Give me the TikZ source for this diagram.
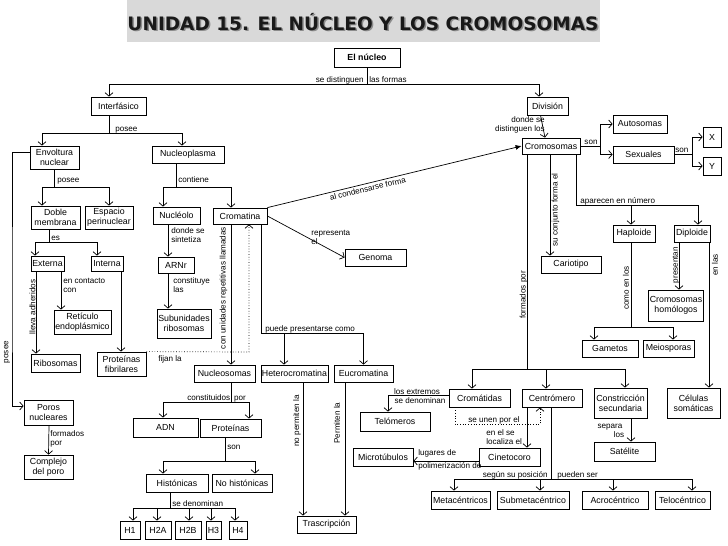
\documentclass[tikz,border=0pt]{standalone}
\usepackage{fontspec}
\setmainfont{Liberation Sans}
\newfontfamily\titlefont{DejaVu Sans}
\usetikzlibrary{arrows.meta}
\definecolor{titlegray}{RGB}{217,217,217}
\begin{document}
\begin{tikzpicture}[x=1pt,y=-1pt,line width=0.7pt,
  box/.style={draw,line width=0.8pt,fill=white,inner sep=1pt,align=center,font=\fontsize{8.8}{9.8}\selectfont},
  wh/.style 2 args={minimum width=#1pt,minimum height=#2pt},
  lbl/.style={inner sep=0pt,align=left,font=\fontsize{8.1}{9.2}\selectfont},
  arr/.style={-{Straight Barb[length=3.5pt,width=8pt]}},
  titletxt/.style={inner sep=0pt,font=\titlefont\bfseries\fontsize{18.5}{20}\selectfont}]
\useasboundingbox (0,0) rectangle (728,546);
% title
\fill[titlegray] (127,0) rectangle (600,42);
\node[titletxt,text=black!45,anchor=base] (titleS) at (364.5,31.5) {UNIDAD 15. EL NÚCLEO Y LOS CROMOSOMAS};
\node[titletxt,text=black!90,anchor=base] (title) at (363,30) {UNIDAD 15. EL NÚCLEO Y LOS CROMOSOMAS};
% nodes
\node[box,wh={66}{19}] (ElNucleo) at (367,57.5) {\bfseries El núcleo};
\node[box,wh={55}{18}] (Interfasico) at (118.5,106) {Interfásico};
\node[box,wh={41}{18}] (Division) at (547.5,106) {División};
\node[box,wh={49}{23}] (Envoltura) at (54.5,157.5) {Envoltura\\nuclear};
\node[box,wh={72}{17}] (Nucleoplasma) at (188,154.5) {Nucleoplasma};
\node[box,wh={58}{16}] (Cromosomas) at (551,146) {Cromosomas};
\node[box,wh={54}{18}] (Autosomas) at (640,124) {Autosomas};
\node[box,wh={61}{17}] (Sexuales) at (643.5,154.5) {Sexuales};
\node[box,wh={18}{20}] (X) at (712,137) {X};
\node[box,wh={18}{18}] (Y) at (712,166) {Y};
\node[box,wh={49}{23}] (Doble) at (55.5,217.5) {Doble\\membrana};
\node[box,wh={48}{23}] (Espacio) at (109,217.5) {Espacio\\perinuclear};
\node[box,wh={47}{17}] (Nucleolo) at (176.5,215.5) {Nucléolo};
\node[box,wh={54}{16}] (Cromatina) at (240,216) {Cromatina};
\node[box,wh={33}{15}] (Externa) at (47.5,263.5) {Externa};
\node[box,wh={32}{15}] (Interna) at (107,263.5) {Interna};
\node[box,wh={36}{16}] (ARNr) at (176,265) {ARNr};
\node[box,wh={61}{17}] (Genoma) at (375.5,257.5) {Genoma};
\node[box,wh={60}{17}] (Cariotipo) at (571,264.5) {Cariotipo};
\node[box,wh={42}{17}] (Haploide) at (634,233.5) {Haploide};
\node[box,wh={36}{17}] (Diploide) at (692,233.5) {Diploide};
\node[box,wh={57}{24}] (Reticulo) at (82.5,322) {Retículo\\endoplásmico};
\node[box,wh={54}{29}] (Subunidades) at (184,323.5) {Subunidades\\ribosomas};
\node[box,wh={54}{31}] (CromHom) at (676,305.5) {Cromosomas\\homólogos};
\node[box,wh={56}{17}] (Gametos) at (610,348.5) {Gametos};
\node[box,wh={51}{17}] (Meiosporas) at (668.5,348.5) {Meiosporas};
\node[box,wh={49}{18}] (Ribosomas) at (55.5,363) {Ribosomas};
\node[box,wh={49}{24}] (ProtFib) at (121.5,364) {Proteínas\\fibrilares};
\node[box,wh={61}{17}] (Nucleosomas) at (224.5,373.5) {Nucleosomas};
\node[box,wh={67}{17}] (Hetero) at (294.5,373.5) {Heterocromatina};
\node[box,wh={59}{17}] (Eucro) at (363.5,373.5) {Eucromatina};
\node[box,wh={61}{18}] (Cromatidas) at (479.5,398) {Cromátidas};
\node[box,wh={60}{18}] (Centromero) at (552,398) {Centrómero};
\node[box,wh={53}{30}] (Constriccion) at (620.5,403) {Constricción\\secundaria};
\node[box,wh={53}{30}] (Celulas) at (693.5,403) {Células\\somáticas};
\node[box,wh={49}{25}] (Poros) at (48.5,412.5) {Poros\\nucleares};
\node[box,wh={70}{19}] (Telomeros) at (395,421.5) {Telómeros};
\node[box,wh={65}{19}] (ADN) at (165.5,427.5) {ADN};
\node[box,wh={61}{18}] (Proteinas) at (230.5,428) {Proteínas};
\node[box,wh={60}{18}] (Microtubulos) at (383,457) {Microtúbulos};
\node[box,wh={61}{18}] (Cinetocoro) at (509.5,457) {Cinetocoro};
\node[box,wh={61}{19}] (Satelite) at (624.5,451.5) {Satélite};
\node[box,wh={49}{24}] (Complejo) at (48.5,467) {Complejo\\del poro};
\node[box,wh={62}{18}] (Historicas) at (177,483) {Histónicas};
\node[box,wh={60}{18}] (NoHist) at (242,483) {No histónicas};
\node[box,wh={59}{18}] (Metac) at (460.5,500) {Metacéntricos};
\node[box,wh={72}{18}] (Submeta) at (533,500) {Submetacéntrico};
\node[box,wh={66}{18}] (Acro) at (615,500) {Acrocéntrico};
\node[box,wh={55}{18}] (Telo) at (682.5,500) {Telocéntrico};
\node[box,wh={20}{18}] (H1) at (130,530) {H1};
\node[box,wh={26}{18}] (H2A) at (158,530) {H2A};
\node[box,wh={26}{18}] (H2B) at (188,530) {H2B};
\node[box,wh={15}{18}] (H3) at (213.5,530) {H3};
\node[box,wh={18}{18}] (H4) at (238,530) {H4};
\node[box,wh={59}{17}] (Trasc) at (326.5,524.5) {Trascripción};
% El nucleo
\coordinate (jN) at (367,84);
\draw (ElNucleo.south) -- (jN);
\draw[arr] (jN) -| ([xshift=-9.5pt]Interfasico.north);
\draw[arr] (jN) -| ([xshift=-8.5pt]Division.north);
\node[lbl,anchor=base east] (l1) at (364,82) {se distinguen};
\node[lbl,anchor=base west] (l2) at (369,82) {las formas};
% Interfasico
\coordinate (jI) at (109,133);
\draw ([xshift=-9.5pt]Interfasico.south) -- (jI);
\draw[arr] (jI) -| ([xshift=-12.5pt]Envoltura.north);
\draw[arr] (jI) -| ([xshift=-6pt]Nucleoplasma.north);
\node[lbl,anchor=base west] (l3) at (115,131) {posee};
% Envoltura
\coordinate (cL) at (12,300);
\draw[arr] ([yshift=5.5pt]Envoltura.west) -| (cL) |- ([yshift=6.5pt]Poros.west);
\node[lbl,rotate=90] (l4) at (7,352) {posee};
\coordinate (jE) at (54.5,187);
\draw (Envoltura.south) -- (jE);
\draw[arr] (jE) -| ([xshift=-13.5pt]Doble.north);
\draw[arr] (jE) -| (Espacio.north);
\node[lbl,anchor=base west] (l5) at (57,182) {posee};
% Doble membrana
\coordinate (jD) at (49,242);
\draw ([xshift=-6.5pt]Doble.south) -- (jD);
\draw[arr] (jD) -| ([xshift=-12.5pt]Externa.north);
\draw[arr] (jD) -| ([xshift=-10pt]Interna.north);
\node[lbl,anchor=base west] (l6) at (51,240) {es};
% Externa / Interna
\draw[arr] ([xshift=-11.5pt]Externa.south) -- ([xshift=-19.5pt]Ribosomas.north);
\node[lbl,rotate=90] (l7) at (32.5,307) {lleva adheridos};
\draw[arr] ([xshift=13.5pt]Externa.south) -- ([xshift=-21.5pt]Reticulo.north);
\node[lbl,anchor=north west] (l8) at (63,278) {en contacto\\con};
\draw[arr] ([xshift=14pt]Interna.south) -- ([xshift=-0.5pt]ProtFib.north);
\coordinate (cF) at (249,352);
\draw[dotted,arr] (ProtFib.north east) -- (cF) -- ([xshift=9pt]Cromatina.south);
\node[lbl,anchor=north west] (l9) at (158,355) {fijan la};
% Nucleoplasma
\coordinate (jNP) at (176,187);
\draw ([xshift=-12pt]Nucleoplasma.south) -- (jNP);
\draw[arr] (jNP) -| ([xshift=-13.5pt]Nucleolo.north);
\draw[arr] (jNP) -| ([xshift=-9pt]Cromatina.north);
\node[lbl,anchor=base west] (l10) at (178,182) {contiene};
\draw[arr] ([xshift=-8.5pt]Nucleolo.south) -- ([xshift=-8pt]ARNr.north);
\node[lbl,anchor=north west] (l11) at (171,227) {donde se\\sintetiza};
\draw[arr] ([xshift=-8pt]ARNr.south) -- ([xshift=-16pt]Subunidades.north);
\node[lbl,anchor=north west] (l12) at (173,277) {constituye\\las};
% Cromatina
\draw[arr] ([xshift=-9pt]Cromatina.south) -- ([xshift=6.5pt]Nucleosomas.north);
\node[lbl,rotate=90] (l13) at (223.5,288) {con unidades repetitivas llamadas};
\coordinate (jC) at (261,333);
\draw ([xshift=21pt]Cromatina.south) -- (jC);
\draw[arr] (jC) -| ([xshift=-10.5pt]Hetero.north);
\draw[arr] (jC) -| (Eucro.north);
\node[lbl,anchor=base west] (l14) at (265,331) {puede presentarse como};
\draw[arr] (Cromatina.east) -- (Genoma.west);
\node[lbl,anchor=north west] (l15) at (311,230) {representa\\el};
\draw[-{Latex[length=6pt,width=5pt]}] (Cromatina.north east) -- node[lbl,sloped,below=2pt,pos=0.39] (l16) {al condensarse forma} (Cromosomas.west);
% Division
\draw[arr] ([xshift=-7pt]Division.south) -- ([xshift=-6pt]Cromosomas.north);
\node[lbl,anchor=north east,align=right] (l17) at (545,116) {donde se\\distinguen los};
% Cromosomas
\coordinate (jS) at (600,146);
\draw (Cromosomas.east) -- (jS);
\draw[arr] (jS) |- (Autosomas.west);
\draw[arr] (jS) |- (Sexuales.west);
\node[lbl,anchor=base] (l18) at (591,144) {son};
\coordinate (jS2) at (692,154.5);
\draw (Sexuales.east) -- (jS2);
\draw[arr] (jS2) |- (X.west);
\draw[arr] (jS2) |- (Y.west);
\node[lbl,anchor=base west] (l19) at (675,152.5) {son};
\coordinate (jF) at (527,369);
\draw ([xshift=-24pt]Cromosomas.south) -- (jF);
\draw[arr] (jF) -| ([xshift=-7.5pt]Cromatidas.north);
\draw[arr] (jF) -| ([xshift=-6pt]Centromero.north);
\draw[arr] (jF) -| ([xshift=4.5pt]Constriccion.north);
\node[lbl,rotate=90] (l20) at (523.5,295) {formados por};
\draw[arr] ([xshift=-1pt]Cromosomas.south) -- ([xshift=-21pt]Cariotipo.north);
\node[lbl,rotate=90] (l21) at (555.5,210) {su conjunto forma el};
\coordinate (jA) at (576,205);
\draw ([xshift=25pt]Cromosomas.south) -- (jA);
\draw[arr] (jA) -| ([xshift=-3pt]Haploide.north);
\draw[arr] (jA) -| ([xshift=6pt]Diploide.north);
\node[lbl,anchor=base west] (l22) at (580,203) {aparecen en número};
% Haploide / Diploide
\coordinate (jH) at (631,327);
\draw ([xshift=-3pt]Haploide.south) -- (jH);
\draw[arr] (jH) -| ([xshift=-16pt]Gametos.north);
\draw[arr] (jH) -| ([xshift=4.5pt]Meiosporas.north);
\node[lbl,rotate=90] (l23) at (626,288) {como en los};
\draw[arr] ([xshift=-13pt]Diploide.south) -- ([xshift=3pt]CromHom.north);
\node[lbl,rotate=90] (l24) at (676,265) {presentan};
\draw[arr] ([xshift=17pt]Diploide.south) -- ([xshift=15.5pt]Celulas.north);
\node[lbl,rotate=90] (l25) at (715,265) {en las};
% Cromatidas
\draw[arr] ([yshift=3pt]Cromatidas.west) -| ([xshift=-7pt]Telomeros.north);
\node[lbl,anchor=base] (l26) at (417,394) {los extremos};
\node[lbl,anchor=north] (l27) at (420,397.5) {se denominan};
\coordinate (cU) at (455,424);
\draw[dotted,arr] ([xshift=-24.5pt]Cromatidas.south) -- (cU) -| ([xshift=-12pt]Centromero.south);
\node[lbl,anchor=base] (l28) at (494,422) {se unen por el};
% Centromero
\draw[arr] ([xshift=-25pt]Centromero.south) -- ([xshift=17.5pt]Cinetocoro.north);
\node[lbl,anchor=north west] (l29) at (486,429) {en el se\\localiza el};
\coordinate (jT) at (551,479);
\draw ([xshift=-1pt]Centromero.south) -- (jT);
\draw[arr] (jT) -| ([xshift=-6.5pt]Metac.north);
\draw[arr] (jT) -| ([xshift=7pt]Submeta.north);
\draw[arr] (jT) -| ([xshift=-2pt]Acro.north);
\draw[arr] (jT) -| ([xshift=9.5pt]Telo.north);
\node[lbl,anchor=base east] (l30) at (548,477.5) {según su posición};
\node[lbl,anchor=base west] (l31) at (557,477.5) {pueden ser};
\draw[arr] ([yshift=-4pt]Cinetocoro.west) -- ([yshift=-4pt]Microtubulos.east);
\node[lbl,anchor=base west] (l32) at (418,455) {lugares de};
\node[lbl,anchor=north west] (l33) at (418,462.5) {polimerización de};
\draw[arr] ([xshift=10.5pt]Constriccion.south) -- ([xshift=6.5pt]Satelite.north);
\node[lbl,anchor=base] (l34) at (610,428) {separa};
\node[lbl,anchor=base] (l35) at (619,437) {los};
% Poros
\draw[arr] ([xshift=0.5pt]Poros.south) -- (Complejo.north);
\node[lbl,anchor=north west] (l36) at (50,430) {formados\\por};
% Nucleosomas
\coordinate (jNu) at (231,402);
\draw ([xshift=6.5pt]Nucleosomas.south) -- (jNu);
\draw[arr] (jNu) -| ([xshift=-2.5pt]ADN.north);
\draw[arr] (jNu) -| ([xshift=18.5pt]Proteinas.north);
\node[lbl,anchor=base west] (l37) at (187,400.5) {constituidos\hspace{4pt}por};
\coordinate (jP) at (225,461);
\draw ([xshift=-5.5pt]Proteinas.south) -- (jP);
\draw[arr] (jP) -| ([xshift=-14pt]Historicas.north);
\draw[arr] (jP) -| ([xshift=13pt]NoHist.north);
\node[lbl,anchor=west] (l38) at (227,447) {son};
\coordinate (jHi) at (170,508);
\draw ([xshift=-7pt]Historicas.south) -- (jHi);
\draw[arr] (jHi) -| ([xshift=3pt]H1.north);
\draw[arr] (jHi) -| ([xshift=-1pt]H2A.north);
\draw[arr] (jHi) -| ([xshift=1pt]H2B.north);
\draw[arr] (jHi) -| ([xshift=-2.5pt]H3.north);
\draw[arr] (jHi) -| ([xshift=-3pt]H4.north);
\node[lbl,anchor=base west] (l39) at (172,506.5) {se denominan};
% Hetero / Eu
\draw[arr] ([xshift=8.5pt]Hetero.south) -- ([xshift=-23.5pt]Trasc.north);
\node[lbl,rotate=90] (l40) at (297,421) {no permiten la};
\draw[arr] ([xshift=-18.5pt]Eucro.south) -- ([xshift=18.5pt]Trasc.north);
\node[lbl,rotate=90] (l41) at (337,423) {Permiten la};
\end{tikzpicture}
\end{document}
